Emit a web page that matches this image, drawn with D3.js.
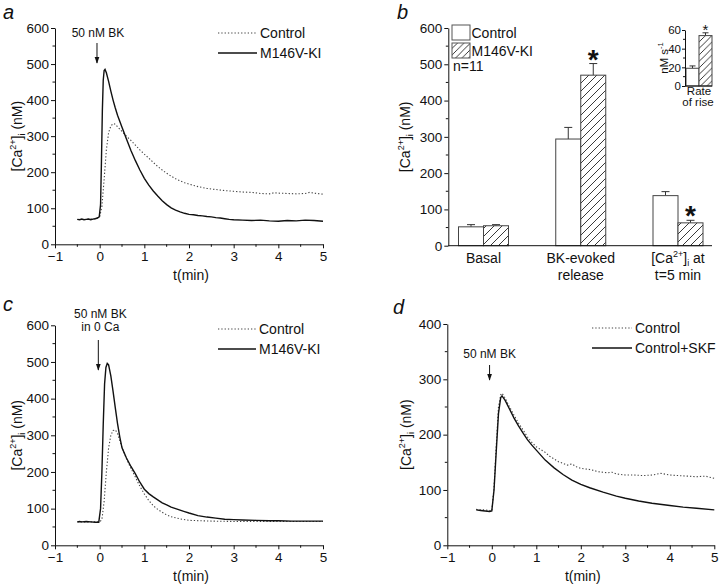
<!DOCTYPE html>
<html><head><meta charset="utf-8">
<script src="https://cdnjs.cloudflare.com/ajax/libs/d3/7.8.5/d3.min.js"></script>
<style>body{margin:0;background:#fff}svg{display:block;font-family:"Liberation Sans",Arial,sans-serif}</style>
</head><body><svg id="c" width="720" height="587"></svg>
<script>
// ---------- DATA ----------
// Panel a
const aKI = [[-0.5,69],[-0.45,68],[-0.4,70],[-0.35,68],[-0.3,69],[-0.25,70],[-0.2,68],[-0.15,70],[-0.1,71],[-0.05,73],[-0.01,76],[0.02,110],[0.04,230],[0.06,370],[0.08,455],[0.1,482],[0.12,485],[0.15,476],[0.2,452],[0.25,425],[0.3,400],[0.35,378],[0.4,358],[0.5,325],[0.6,292],[0.7,260],[0.8,232],[0.9,206],[1.0,183],[1.1,164],[1.2,148],[1.3,134],[1.4,121],[1.5,110],[1.6,101],[1.7,95],[1.8,90],[1.9,86],[2.0,83],[2.1,82],[2.2,80],[2.3,79],[2.4,77],[2.5,76],[2.6,74],[2.7,73],[2.8,71],[2.9,69],[3.0,68],[3.2,67],[3.4,66],[3.6,67],[3.8,65],[4.0,64],[4.2,66],[4.4,65],[4.6,67],[4.8,66],[5.0,64]];
const aCtrl = [[-0.5,69],[-0.3,69],[-0.1,71],[0.0,76],[0.05,105],[0.1,180],[0.15,262],[0.2,310],[0.25,328],[0.3,335],[0.35,333],[0.4,326],[0.5,313],[0.6,300],[0.7,288],[0.8,275],[0.9,262],[1.0,250],[1.1,239],[1.2,227],[1.3,216],[1.4,206],[1.5,197],[1.6,189],[1.7,182],[1.8,176],[1.9,171],[2.0,167],[2.2,160],[2.4,155],[2.6,152],[2.8,149],[3.0,147],[3.2,145],[3.4,144],[3.6,141],[3.8,140],[3.9,143],[4.0,142],[4.2,141],[4.4,140],[4.6,141],[4.7,144],[4.8,142],[5.0,139]];
// Panel c
const cKI = [[-0.5,64],[-0.45,65],[-0.4,64],[-0.3,65],[-0.2,64],[-0.1,63],[-0.02,63],[0.02,100],[0.05,200],[0.08,330],[0.11,440],[0.14,485],[0.17,496],[0.2,492],[0.25,462],[0.3,420],[0.35,375],[0.4,332],[0.45,296],[0.5,266],[0.6,238],[0.7,215],[0.8,195],[0.9,172],[1.0,153],[1.1,141],[1.2,132],[1.3,124],[1.4,116],[1.5,110],[1.6,104],[1.7,100],[1.8,96],[1.9,92],[2.0,88],[2.2,81],[2.4,77],[2.6,74],[2.8,71],[3.0,70],[3.2,69],[3.5,68],[3.8,67],[4.0,67],[4.3,66],[4.6,66],[5.0,66]];
const cCtrl = [[-0.5,64],[-0.2,64],[0.0,64],[0.05,70],[0.1,120],[0.15,200],[0.2,265],[0.25,300],[0.3,313],[0.35,315],[0.4,305],[0.45,286],[0.5,266],[0.6,236],[0.7,210],[0.8,186],[0.9,161],[1.0,140],[1.1,122],[1.2,108],[1.3,98],[1.4,90],[1.5,83],[1.6,78],[1.8,72],[2.0,68],[2.5,66],[3.0,65],[4.0,65],[5.0,65]];
// Panel d
const dSKF = [[-0.35,64],[-0.25,63],[-0.15,62],[-0.05,61],[0.0,62],[0.05,100],[0.1,170],[0.15,238],[0.2,267],[0.23,270],[0.3,262],[0.4,246],[0.5,230],[0.6,216],[0.7,203],[0.8,191],[0.9,181],[1.0,172],[1.2,154],[1.4,140],[1.6,128],[1.8,118],[2.0,110],[2.2,104],[2.5,96],[2.8,89],[3.0,85],[3.3,80],[3.6,76],[4.0,72],[4.3,69],[4.6,67],[5.0,64]];
const dCtrl = [[-0.35,65],[-0.25,64],[-0.15,64],[-0.05,63],[0.0,62],[0.05,105],[0.1,180],[0.15,250],[0.2,272],[0.23,275],[0.3,266],[0.4,250],[0.5,235],[0.6,221],[0.7,209],[0.8,196],[0.9,186],[1.0,178],[1.1,173],[1.2,168],[1.3,161],[1.4,156],[1.5,151],[1.6,148],[1.7,145],[1.8,147],[1.9,142],[2.0,139],[2.2,137],[2.4,133],[2.6,131],[2.7,132],[2.8,129],[3.0,127],[3.2,127],[3.4,126],[3.6,127],[3.8,130],[4.0,127],[4.2,126],[4.4,125],[4.6,124],[4.8,125],[5.0,121]];
// Panel b
const bCategories = [["Basal"],["BK-evoked","release"],["CA5","t=5 min"]];
const bControl = [52, 294, 138];
const bControlErr = [6, 32, 11];
const bKI = [55, 470, 63];
const bKIErr = [3, 32, 7];
const bStar = [false, true, true];
const insetControl = 19, insetControlErr = 2.5;
const insetKI = 54, insetKIErr = 3;
const xTicks = [-1,0,1,2,3,4,5];
const yTicks600 = [0,100,200,300,400,500,600];
const yTicks400 = [0,100,200,300,400];
const insetTicks = [0,20,40,60];

// ---------- DRAW ----------
const svg = d3.select("#c");
const defs = svg.append("defs");
function hatch(id, s){
  const p = defs.append("pattern").attr("id",id).attr("patternUnits","userSpaceOnUse").attr("width",s).attr("height",s);
  p.append("rect").attr("width",s).attr("height",s).attr("fill","#fff");
  p.append("path").attr("d",`M0,${s} L${s},0 M${-s/2},${s/2} L${s/2},${-s/2} M${s/2},${s*1.5} L${s*1.5},${s/2}`).attr("stroke","#222").attr("stroke-width",0.9);
}
hatch("h1",8); hatch("h2",6.5);
defs.append("marker").attr("id","arr").attr("viewBox","0 0 10 10").attr("refX",9).attr("refY",5)
  .attr("markerWidth",7).attr("markerHeight",7).attr("orient","auto")
  .append("path").attr("d","M0,1.5 L10,5 L0,8.5 Z").attr("fill","#111");

function yLabel(g, x, y){
  const t = g.append("text").attr("transform",`translate(${x},${y}) rotate(-90)`).attr("text-anchor","middle").attr("font-size",14).attr("fill","#111");
  t.append("tspan").text("[Ca");
  t.append("tspan").text("2+").attr("font-size",9).attr("dy",-6);
  t.append("tspan").text("]").attr("dy",6);
  t.append("tspan").text("i").attr("font-size",9).attr("dy",3);
  t.append("tspan").text(" (nM)").attr("dy",-3);
}
function styleAxis(ax){
  ax.select(".domain").attr("stroke","#111");
  ax.selectAll(".tick line").attr("stroke","#111");
  ax.selectAll(".tick text").attr("font-size",13).attr("fill","#111").attr("font-family",'"Liberation Sans",Arial,sans-serif');
}
function tracePanel(o){
  const g = svg.append("g");
  const x = d3.scaleLinear().domain([-1,5]).range([o.x0,o.x1]);
  const y = d3.scaleLinear().domain([0,o.ymax]).range([o.y0,o.y1]);
  const xm = d3.range(-0.5,5,1), ym = d3.range(50,o.ymax,100);
  g.selectAll(".xm").data(xm).join("line").attr("x1",d=>x(d)).attr("x2",d=>x(d)).attr("y1",o.y0).attr("y2",o.y0+2.5).attr("stroke","#111");
  g.selectAll(".ym").data(ym).join("line").attr("y1",d=>y(d)).attr("y2",d=>y(d)).attr("x1",o.x0).attr("x2",o.x0-2.5).attr("stroke","#111");
  const ax = g.append("g").attr("transform",`translate(0,${o.y0})`).call(d3.axisBottom(x).tickValues(xTicks).tickSize(4).tickSizeOuter(0).tickPadding(3).tickFormat(d3.format("d")));
  styleAxis(ax); ax.selectAll(".tick text").attr("font-size",13.5);
  const ay = g.append("g").attr("transform",`translate(${o.x0},0)`).call(d3.axisLeft(y).tickValues(o.yt).tickSize(4).tickSizeOuter(0).tickPadding(2));
  styleAxis(ay);
  ay.selectAll(".tick text").attr("font-size",13.5);
  const line = d3.line().x(d=>x(d[0])).y(d=>y(d[1]));
  g.append("path").datum(o.ctrl).attr("d",line).attr("fill","none").attr("stroke","#444").attr("stroke-width",1.1).attr("stroke-dasharray","1.3,2");
  g.append("path").datum(o.main).attr("d",line).attr("fill","none").attr("stroke","#111").attr("stroke-width",1.4);
  g.append("text").attr("x",o.lx).attr("y",o.ly).attr("font-size",20).attr("font-style","italic").attr("fill","#111").text(o.letter);
  g.append("text").attr("x",(o.x0+o.x1)/2+2).attr("y",o.y0+36).attr("text-anchor","middle").attr("font-size",14).attr("fill","#111").text("t(min)");
  yLabel(g, o.ylx, (o.y0+o.y1)/2);
  const L = o.leg;
  g.append("line").attr("x1",L.x).attr("x2",L.x+L.w).attr("y1",L.y).attr("y2",L.y).attr("stroke","#444").attr("stroke-width",1.1).attr("stroke-dasharray","1.3,2");
  g.append("line").attr("x1",L.x).attr("x2",L.x+L.w).attr("y1",L.y+20).attr("y2",L.y+20).attr("stroke","#111").attr("stroke-width",1.4);
  g.append("text").attr("x",L.x+L.w+3).attr("y",L.y+5).attr("font-size",14).attr("fill","#111").text(o.names[0]);
  g.append("text").attr("x",L.x+L.w+3).attr("y",L.y+25).attr("font-size",14).attr("fill","#111").text(o.names[1]);
  const A = o.ann;
  A.lines.forEach((s,i)=> g.append("text").attr("x",x(A.t)+A.dx).attr("y",A.ty+i*13).attr("text-anchor","middle").attr("font-size",12).attr("fill","#111").text(s));
  g.append("line").attr("x1",x(A.t)).attr("x2",x(A.t)).attr("y1",A.a0).attr("y2",A.a1).attr("stroke","#111").attr("stroke-width",1).attr("marker-end","url(#arr)");
}
tracePanel({x0:55,x1:323,y0:244.3,y1:28,ymax:600,yt:yTicks600,main:aKI,ctrl:aCtrl,letter:"a",lx:3,ly:19,ylx:22,
  leg:{x:218,y:33,w:39},names:["Control","M146V-KI"],ann:{t:-0.06,dx:1,ty:37,lines:["50 nM BK"],a0:43,a1:63}});
tracePanel({x0:55,x1:323,y0:545.3,y1:325.3,ymax:600,yt:yTicks600,main:cKI,ctrl:cCtrl,letter:"c",lx:3,ly:311,ylx:22,
  leg:{x:218,y:329,w:38},names:["Control","M146V-KI"],ann:{t:-0.03,dx:2,ty:318,lines:["50 nM BK","in 0 Ca"],a0:340,a1:370}});
tracePanel({x0:447.3,x1:714.3,y0:545.3,y1:324,ymax:400,yt:yTicks400,main:dSKF,ctrl:dCtrl,letter:"d",lx:393,ly:314,ylx:411,
  leg:{x:592,y:328,w:40},names:["Control","Control+SKF"],ann:{t:-0.05,dx:0,ty:358,lines:["50 nM BK"],a0:365,a1:380}});

// ---------- Panel b ----------
(function(){
  const g = svg.append("g");
  const x0=448.3, x1=712, y0=245.7, y1=28;
  const y = d3.scaleLinear().domain([0,600]).range([y0,y1]);
  const xc = d3.scalePoint().domain([0,1,2]).range([483.5,678]);
  const sub = d3.scaleBand().domain(["c","k"]).range([-25,25]).padding(0);
  g.selectAll(".ym").data(d3.range(50,600,100)).join("line").attr("y1",d=>y(d)).attr("y2",d=>y(d)).attr("x1",x0).attr("x2",x0-2.5).attr("stroke","#111");
  const ay = g.append("g").attr("transform",`translate(${x0},0)`).call(d3.axisLeft(y).tickValues(yTicks600).tickSize(4).tickSizeOuter(0).tickPadding(2));
  styleAxis(ay); ay.selectAll(".tick text").attr("font-size",13.5);
  const idx=[0,1,2];
  function err(vals, errs, key){
    g.selectAll(".e"+key).data(idx).join("path")
      .attr("d",i=>{const cx=xc(i)+sub(key)+sub.bandwidth()/2, t=y(vals[i]+errs[i]);return `M${cx},${y(vals[i])}V${t}M${cx-4},${t}H${cx+4}`;})
      .attr("stroke","#333").attr("stroke-width",1).attr("fill","none");
  }
  err(bControl,bControlErr,"c"); err(bKI,bKIErr,"k");
  g.selectAll(".bc").data(idx).join("rect").attr("x",i=>xc(i)+sub("c")).attr("width",sub.bandwidth()).attr("y",i=>y(bControl[i])).attr("height",i=>y0-y(bControl[i])).attr("fill","#fff").attr("stroke","#444").attr("stroke-width",1);
  g.selectAll(".bk").data(idx).join("rect").attr("x",i=>xc(i)+sub("k")).attr("width",sub.bandwidth()).attr("y",i=>y(bKI[i])).attr("height",i=>y0-y(bKI[i])).attr("fill","url(#h1)").attr("stroke","#444").attr("stroke-width",1);
  g.append("line").attr("x1",x0).attr("x2",x1).attr("y1",y0).attr("y2",y0).attr("stroke","#111");
  g.selectAll(".st").data(idx.filter(i=>bStar[i])).join("text").attr("x",i=>xc(i)+sub("k")+sub.bandwidth()/2).attr("y",i=>y(bKI[i]+bKIErr[i])+5).attr("text-anchor","middle").attr("font-size",28).attr("font-weight","bold").attr("fill","#111").text("*");
  idx.forEach(i=>{
    bCategories[i].forEach((s,j)=>{
      const t = g.append("text").attr("x",xc(i)).attr("y",263+j*17).attr("text-anchor","middle").attr("font-size",14).attr("fill","#111");
      if(s==="CA5"){
        t.append("tspan").text("[Ca");
        t.append("tspan").text("2+").attr("font-size",9).attr("dy",-6);
        t.append("tspan").text("]").attr("dy",6);
        t.append("tspan").text("i").attr("font-size",9).attr("dy",3);
        t.append("tspan").text(" at").attr("dy",-3);
      } else t.text(s);
    });
  });
  g.append("text").attr("x",397).attr("y",19).attr("font-size",20).attr("font-style","italic").attr("fill","#111").text("b");
  yLabel(g, 410, (y0+y1)/2);
  g.append("rect").attr("x",452).attr("y",25).attr("width",18).attr("height",15).attr("fill","#fff").attr("stroke","#555");
  g.append("rect").attr("x",452).attr("y",43).attr("width",18).attr("height",15).attr("fill","url(#h2)").attr("stroke","#555");
  g.append("text").attr("x",471.5).attr("y",38).attr("font-size",14).attr("fill","#111").text("Control");
  g.append("text").attr("x",471.5).attr("y",56).attr("font-size",14).attr("fill","#111").text("M146V-KI");
  g.append("text").attr("x",453).attr("y",71).attr("font-size",14).attr("fill","#111").text("n=11");
  // inset
  const ix0=685, ix1=712, iy0=86, iy1=30;
  const iy = d3.scaleLinear().domain([0,60]).range([iy0,iy1]);
  const ib = d3.scaleBand().domain(["c","k"]).range([ix0+1,ix1]).padding(0);
  const iv=[insetControl,insetKI], ie=[insetControlErr,insetKIErr];
  ["c","k"].forEach((k,i)=>{
    const cx=ib(k)+ib.bandwidth()/2, t=iy(iv[i]+ie[i]);
    g.append("path").attr("d",`M${cx},${iy(iv[i])}V${t}M${cx-3},${t}H${cx+3}`).attr("stroke","#333").attr("fill","none");
    g.append("rect").attr("x",ib(k)).attr("width",ib.bandwidth()).attr("y",iy(iv[i])).attr("height",iy0-iy(iv[i])).attr("fill",i?"url(#h2)":"#fff").attr("stroke","#444");
  });
  g.selectAll(".iym").data([10,30,50]).join("line").attr("y1",d=>iy(d)).attr("y2",d=>iy(d)).attr("x1",ix0).attr("x2",ix0-2).attr("stroke","#111");
  const iay = g.append("g").attr("transform",`translate(${ix0},0)`).call(d3.axisLeft(iy).tickValues(insetTicks).tickSize(3).tickSizeOuter(0).tickPadding(1));
  styleAxis(iay); iay.selectAll(".tick text").attr("font-size",11.5);
  g.append("line").attr("x1",ix0).attr("x2",ix1).attr("y1",iy0).attr("y2",iy0).attr("stroke","#111");
  g.append("text").attr("x",ib("k")+ib.bandwidth()/2).attr("y",iy(insetKI+insetKIErr)+2).attr("text-anchor","middle").attr("font-size",15).attr("fill","#111").text("*");
  const tl = g.append("text").attr("transform",`translate(668,${(iy0+iy1)/2}) rotate(-90)`).attr("text-anchor","middle").attr("font-size",11.5).attr("fill","#111");
  tl.append("tspan").text("nM  s");
  tl.append("tspan").text("-1").attr("font-size",7.5).attr("dy",-5);
  g.append("text").attr("x",699).attr("y",94.5).attr("text-anchor","middle").attr("font-size",11.5).attr("fill","#111").text("Rate");
  g.append("text").attr("x",698).attr("y",106).attr("text-anchor","middle").attr("font-size",11.5).attr("fill","#111").text("of rise");
})();
</script></body></html>
